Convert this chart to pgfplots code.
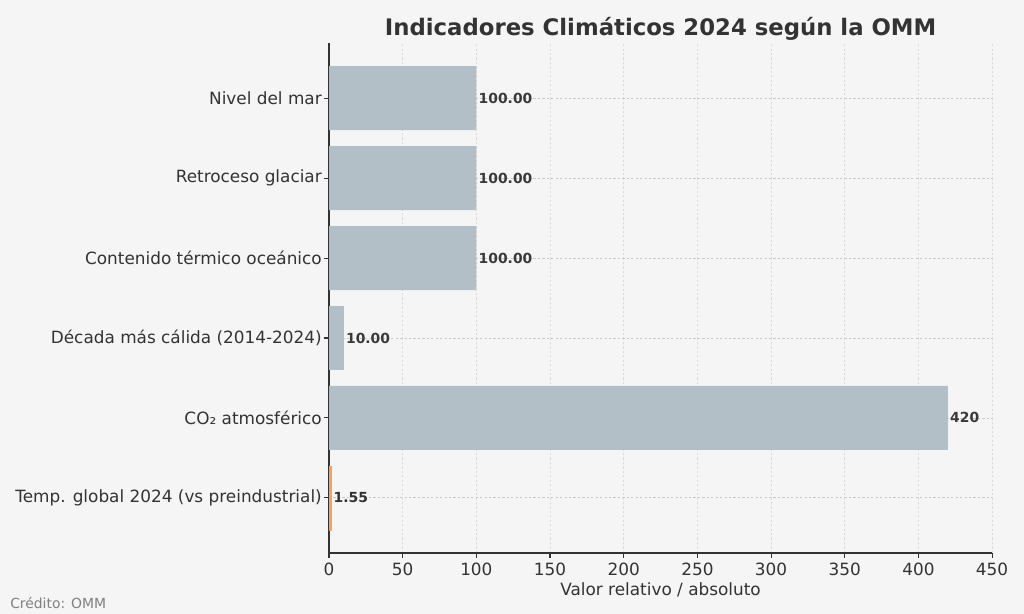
\documentclass[border=0pt]{standalone}
\usepackage{pgfplots}
\pgfplotsset{compat=1.18}
\usepackage{fontspec}
\setmainfont{DejaVu Sans}
\definecolor{bg}{HTML}{F5F5F5}
\definecolor{barc}{HTML}{B0BEC5}
\definecolor{orangec}{HTML}{F4A261}
\definecolor{txt}{HTML}{333333}
\definecolor{gridc}{HTML}{C8C8C8}
\definecolor{gridx}{HTML}{DADADA}
\begin{document}
\begin{tikzpicture}[x=1pt,y=1pt]
\fill[bg] (0,0) rectangle (737.28,442.08);
\path[use as bounding box] (0,0) rectangle (737.28,442.08);
\begin{axis}[
  at={(236.9pt,43.9pt)}, anchor=south west,
  scale only axis, width=477.4pt, height=367.2pt,
  xmin=0, xmax=450, ymin=-0.69, ymax=5.69,
  xtick={0,50,...,450},
  ytick={0,1,2,3,4,5},
  yticklabels={Temp. global 2024 (vs preindustrial),CO₂ atmosférico,Década más cálida (2014-2024),Contenido térmico oceánico,Retroceso glaciar,Nivel del mar},
  axis x line*=bottom, axis y line*=left,
  axis line style={-, draw=txt, line width=0.8pt},
  tick align=outside, major tick length=3.5pt,
  tick style={draw=txt, line width=0.8pt},
  tick label style={font=\fontsize{12.15}{14}\selectfont, text=txt},
  yticklabel style={xshift=1.8pt},
  /pgf/number format/assume math mode=true,
  xlabel={Valor relativo / absoluto},
  xlabel style={font=\fontsize{12.15}{14}\selectfont, text=txt, yshift=1.5pt},
  xmajorgrids, ymajorgrids,
  x grid style={draw=gridx, dash pattern=on 1.6pt off 1.6pt, line width=0.6pt},
  y grid style={draw=gridc, dash pattern=on 1.6pt off 1.6pt, line width=0.6pt},
  axis background/.style={fill=bg},
  xbar, bar width=0.8, bar shift=0pt,
  nodes near coords,
  point meta=explicit symbolic,
  nodes near coords style={font=\bfseries\fontsize{10}{12}\selectfont, text=txt, anchor=west, inner sep=1.5pt},
  clip=false,
]
\addplot[fill=barc, draw=none, fill opacity=0.97] coordinates {
  (100,5) [100.00]
  (100,4) [100.00]
  (100,3) [100.00]
  (10,2) [10.00]
  (420,1) [420]
};
\addplot[fill=orangec, draw=orangec, line width=0.4pt] coordinates {
  (1.55,0) [1.55]
};
\end{axis}
\node[font=\bfseries\fontsize{16.4}{19}\selectfont, text=txt] at (475.6,421.5) {Indicadores Climáticos 2024 según la OMM};
\node[font=\fontsize{10}{12}\selectfont, text=gray, anchor=west, inner sep=0pt] at (7.2,7.9) {Crédito: OMM};
\end{tikzpicture}
\end{document}
